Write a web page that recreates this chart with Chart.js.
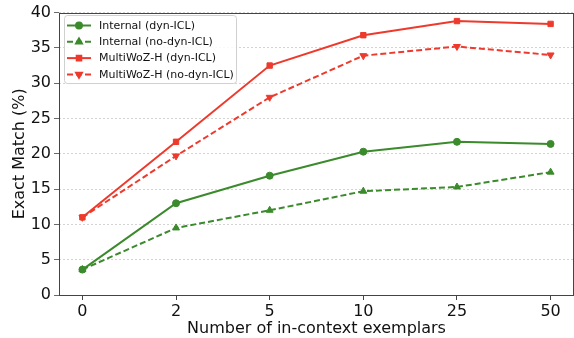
<!DOCTYPE html>
<html><head><meta charset="utf-8">
<script src="https://cdn.jsdelivr.net/npm/chart.js@4"></script>
<style>html,body{margin:0;padding:0;background:#fff}#wrap{width:574px;height:338px}</style>
</head><body><div id="wrap"><canvas id="c" width="574" height="338"></canvas></div>
<script>
const categories = ['0','2','5','10','25','50'];
const internalDyn = [3.6, 13.0, 16.9, 20.3, 21.7, 21.4];
const internalNoDyn = [3.6, 9.5, 12.0, 14.7, 15.3, 17.4];
const multiwozDyn = [11.0, 21.7, 32.5, 36.8, 38.8, 38.4];
const multiwozNoDyn = [11.0, 19.7, 28.0, 33.9, 35.2, 34.0];
const yTicks = [0,5,10,15,20,25,30,35,40];

const GREEN = '#3b8a2c', RED = '#ee3a2c';
const FONT = "'DejaVu Sans', sans-serif";
const pts = arr => arr.map((v,i)=>({x:i,y:v}));

const mk = (label, data, color, dash, style, rot) => ({
  label, data: pts(data), borderColor: color, backgroundColor: color,
  borderWidth: 2, borderDash: dash, pointStyle: style, pointRotation: rot,
  pointRadius: style==='rect'?3.8:(style==='triangle'?4:3.5), pointHoverRadius: 4,
  pointBorderWidth: 1, tension: 0, fill:false
});

const legendPlugin = {
  id: 'inlegend',
  afterDraw(chart){
    const ctx = chart.ctx;
    const x0 = 64.5, y0 = 15.5, w = 172, h = 68;
    ctx.save();
    ctx.fillStyle = 'rgba(255,255,255,0.85)';
    ctx.strokeStyle = '#d0d0d0'; ctx.lineWidth = 1;
    ctx.beginPath();
    if (ctx.roundRect) ctx.roundRect(x0,y0,w,h,3); else ctx.rect(x0,y0,w,h);
    ctx.fill(); ctx.stroke();
    chart.data.datasets.forEach((ds,i)=>{
      const y = 25.5 + i*16.3;
      ctx.strokeStyle = ds.borderColor; ctx.lineWidth = 2;
      ctx.setLineDash(ds.borderDash || []);
      ctx.beginPath(); ctx.moveTo(67,y); ctx.lineTo(91,y); ctx.stroke();
      ctx.setLineDash([]);
      ctx.fillStyle = ds.borderColor;
      Chart.helpers.drawPoint(ctx, {pointStyle: ds.pointStyle, rotation: ds.pointRotation||0, radius: ds.pointRadius*0.85, borderWidth:1}, 79, y);
      ctx.fillStyle = '#111'; ctx.font = "11px " + FONT; ctx.textBaseline = 'middle';
      ctx.fillText(ds.label, 99, y+0.5);
    });
    ctx.restore();
  }
};

const framePlugin = {
  id: 'frame',
  afterDatasetsDraw(chart){
    const {left,right,top,bottom} = chart.chartArea;
    const ctx = chart.ctx;
    ctx.save(); ctx.strokeStyle = '#444'; ctx.lineWidth = 1;
    ctx.strokeRect(Math.round(left)+0.5, Math.round(top)+0.5, Math.round(right-left)-1, Math.round(bottom-top));
    ctx.restore();
  }
};

new Chart(document.getElementById('c'), {
  type: 'line',
  data: { datasets: [
    mk('Internal (dyn-ICL)', internalDyn, GREEN, [], 'circle', 0),
    mk('Internal (no-dyn-ICL)', internalNoDyn, GREEN, [6,3], 'triangle', 0),
    mk('MultiWoZ-H (dyn-ICL)', multiwozDyn, RED, [], 'rect', 0),
    mk('MultiWoZ-H (no-dyn-ICL)', multiwozNoDyn, RED, [6,3], 'triangle', 180),
  ]},
  options: {
    responsive: false, animation: false,
    layout: { autoPadding: false, padding: { top: 11, right: 0, left: 0, bottom: 0 } },
    plugins: { legend: { display: false }, tooltip: { enabled: false } },
    scales: {
      x: {
        type: 'linear', min: -0.25, max: 5.25,
        afterBuildTicks: s => { s.ticks = categories.map((_,i)=>({value:i})); },
        afterFit: s => { s.height = 43; },
        ticks: { callback: (v)=>categories[v] ?? '', color:'#111', font:{family:FONT,size:16}, padding:2, maxRotation:0 },
        grid: { drawOnChartArea:false, drawTicks:true, tickLength:5, tickColor:'#444' },
        border: { display:false },
        title: { display:true, text:'Number of in-context exemplars', color:'#111', font:{family:FONT,size:16}, padding:{top:0,bottom:0} }
      },
      y: {
        min: 0, max: 40,
        afterBuildTicks: s => { s.ticks = yTicks.map(v=>({value:v})); },
        afterFit: s => { s.width = 59; },
        ticks: { color:'#111', font:{family:FONT,size:16}, padding:3 },
        grid: { color:'#c8c8c8', lineWidth:0.8, drawTicks:true, tickLength:5, tickColor:'#444' },
        border: { display:false, dash:[2,2] },
        title: { display:true, text:'Exact Match (%)', color:'#111', font:{family:FONT,size:16}, padding:{top:10,bottom:0} }
      }
    }
  },
  plugins: [framePlugin, legendPlugin]
});
</script></body></html>
